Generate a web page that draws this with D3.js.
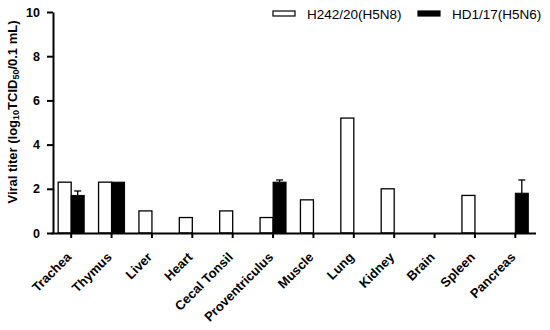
<!DOCTYPE html>
<html><head><meta charset="utf-8">
<script src="https://cdn.jsdelivr.net/npm/d3@7"></script>
<style>body{margin:0;background:#fff}svg{display:block}text{font-family:Arial,"Liberation Sans",sans-serif}</style>
</head><body>
<script>
const categories = ["Trachea","Thymus","Liver","Heart","Cecal Tonsil","Proventriculus","Muscle","Lung","Kidney","Brain","Spleen","Pancreas"];
const seriesNames = ["H242/20(H5N8)","HD1/17(H5N6)"];
const h5n8 = [2.3,2.3,1.0,0.7,1.0,0.7,1.5,5.2,2.0,null,1.7,null];
const h5n6 = [1.7,2.3,null,null,null,2.3,null,null,null,null,null,1.8];
const h5n6Err = [0.2,0,null,null,null,0.1,null,null,null,null,null,0.6];
const yTicks = [0,2,4,6,8,10];

const W=550,H=330;
const svg=d3.select("body").append("svg").attr("width",W).attr("height",H);
const x=d3.scaleBand().domain(categories).range([51,535.5]).padding(0);
const y=d3.scaleLinear().domain([0,10]).range([233,12]);
const bw=13;

// bars
const g=svg.append("g");
g.selectAll("rect.w").data(categories.map((c,i)=>({c,v:h5n8[i]})).filter(d=>d.v!=null))
 .join("rect").attr("class","w")
 .attr("x",d=>x(d.c)+x.bandwidth()/2-bw).attr("width",bw)
 .attr("y",d=>y(d.v)).attr("height",d=>y(0)-y(d.v))
 .attr("fill","#fff").attr("stroke","#000").attr("stroke-width",1.3);
const blk=categories.map((c,i)=>({c,v:h5n6[i],e:h5n6Err[i]})).filter(d=>d.v!=null);
g.selectAll("rect.b").data(blk).join("rect").attr("class","b")
 .attr("x",d=>x(d.c)+x.bandwidth()/2).attr("width",bw)
 .attr("y",d=>y(d.v)).attr("height",d=>y(0)-y(d.v))
 .attr("fill","#000").attr("stroke","#000").attr("stroke-width",1);
const eb=blk.filter(d=>d.e>0);
g.selectAll("line.ev").data(eb).join("line")
 .attr("x1",d=>x(d.c)+x.bandwidth()/2+bw/2).attr("x2",d=>x(d.c)+x.bandwidth()/2+bw/2)
 .attr("y1",d=>y(d.v)).attr("y2",d=>y(d.v+d.e)).attr("stroke","#000").attr("stroke-width",1.3);
g.selectAll("line.ec").data(eb).join("line")
 .attr("x1",d=>x(d.c)+x.bandwidth()/2+bw/2-3.5).attr("x2",d=>x(d.c)+x.bandwidth()/2+bw/2+3.5)
 .attr("y1",d=>y(d.v+d.e)).attr("y2",d=>y(d.v+d.e)).attr("stroke","#000").attr("stroke-width",1.3);

// axes
const ya=svg.append("g").attr("transform","translate(53,0)")
 .call(d3.axisLeft(y).tickValues(yTicks).tickSize(6).tickSizeOuter(0).tickPadding(7));
ya.select(".domain").attr("stroke-width",2);
ya.selectAll(".tick line").attr("stroke-width",2);
ya.selectAll(".tick text").attr("font-size",12.5).attr("font-weight","bold").attr("fill","#000");

const xa=svg.append("g").attr("transform","translate(0,233)")
 .call(d3.axisBottom(x).tickSize(5).tickSizeOuter(0));
xa.select(".domain").attr("stroke-width",2);
xa.selectAll(".tick line").attr("stroke-width",2);
xa.selectAll(".tick text").attr("font-size",13).attr("font-weight","bold").attr("fill","#000")
 .attr("text-anchor","end").attr("y",0).attr("dy","0")
 .attr("transform","translate(1,25) rotate(-45)");

// y title
const yt=svg.append("text").attr("transform","translate(17,112) rotate(-90)")
 .attr("text-anchor","middle").attr("font-size",13).attr("font-weight","bold");
yt.append("tspan").text("Viral titer (log");
yt.append("tspan").text("10").attr("font-size",9).attr("baseline-shift","-25%");
yt.append("tspan").text("TCID");
yt.append("tspan").text("50").attr("font-size",9).attr("baseline-shift","-25%");
yt.append("tspan").text("/0.1 mL)");

// legend
const lg=svg.append("g");
const legX=[273,418];
seriesNames.forEach((s,i)=>{
  lg.append("rect").attr("x",legX[i]).attr("y",11).attr("width",22).attr("height",5)
   .attr("fill",i?"#000":"#fff").attr("stroke","#000").attr("stroke-width",1.2);
  lg.append("text").attr("x",legX[i]+34).attr("y",19).attr("font-size",13.5).text(s);
});
</script>
</body></html>
